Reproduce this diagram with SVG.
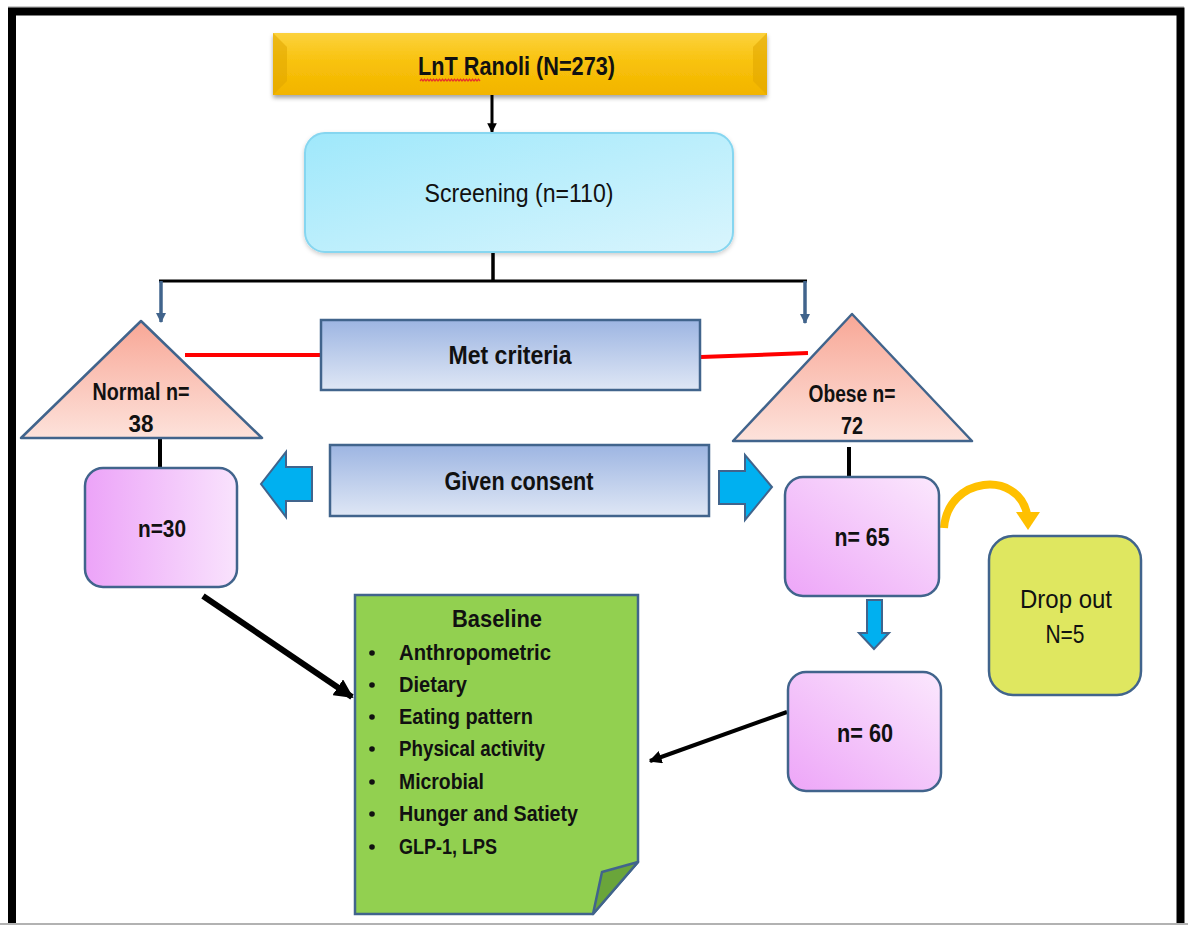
<svg xmlns="http://www.w3.org/2000/svg" width="1188" height="925" viewBox="0 0 1188 925">
<defs>
<style>
text{font-family:"Liberation Sans",Arial,sans-serif;fill:#111;}
.b{font-weight:bold;}
.node{stroke:#41648c;stroke-width:2.5;}
.conn{stroke:#000;fill:none;}
.blk{fill:#00b0f0;stroke:#41648c;stroke-width:2;}
</style>
<linearGradient id="gold" x1="0" y1="0" x2="0" y2="1"><stop offset="0" stop-color="#fcd23d"/><stop offset="0.5" stop-color="#f8c10a"/><stop offset="1" stop-color="#f2b400"/></linearGradient>
<linearGradient id="cyan" x1="0" y1="0" x2="1" y2="1"><stop offset="0" stop-color="#9fe8fb"/><stop offset="1" stop-color="#d9f5fd"/></linearGradient>
<linearGradient id="salmon" x1="0" y1="0" x2="0" y2="1"><stop offset="0" stop-color="#f8a796"/><stop offset="1" stop-color="#fde2db"/></linearGradient>
<linearGradient id="steel" x1="0" y1="0" x2="0" y2="1"><stop offset="0" stop-color="#9db5e2"/><stop offset="1" stop-color="#dfe7f5"/></linearGradient>
<linearGradient id="pinkH" x1="0" y1="0" x2="1" y2="0"><stop offset="0" stop-color="#eca3f8"/><stop offset="1" stop-color="#f9e3fd"/></linearGradient>
<linearGradient id="pinkD" x1="0" y1="1" x2="1" y2="0"><stop offset="0" stop-color="#eda5f8"/><stop offset="1" stop-color="#fbe8fd"/></linearGradient>
<filter id="sh" x="-10%" y="-10%" width="120%" height="130%"><feDropShadow dx="0" dy="3" stdDeviation="2" flood-color="#000" flood-opacity="0.35"/></filter>
<filter id="sh2" x="-10%" y="-10%" width="120%" height="130%"><feDropShadow dx="0" dy="2" stdDeviation="2" flood-color="#000" flood-opacity="0.2"/></filter>
<marker id="ab" viewBox="0 0 10 10" refX="9" refY="5" markerWidth="3.2" markerHeight="3.2" orient="auto" markerUnits="strokeWidth"><path d="M0 0 L10 5 L0 10 z" fill="#000"/></marker>
<marker id="abs" viewBox="0 0 10 10" refX="9" refY="5" markerWidth="3" markerHeight="3" orient="auto" markerUnits="strokeWidth"><path d="M0 0 L10 5 L0 10 z" fill="#41648c"/></marker>
</defs>
<rect width="1188" height="925" fill="#fff"/>
<line x1="8" y1="7" x2="1184" y2="7" stroke="#999" stroke-width="1"/>
<line x1="0" y1="924" x2="1188" y2="924" stroke="#999" stroke-width="1.5"/>
<path d="M12 923 V11.5 H1180.5 V923" fill="none" stroke="#000" stroke-width="8"/>

<g id="connectors">
<line class="conn" x1="492" y1="95" x2="492" y2="132" stroke-width="3" marker-end="url(#ab)"/>
<line class="conn" x1="493" y1="252" x2="493" y2="282" stroke-width="3.5"/>
<line class="conn" x1="159" y1="281" x2="807" y2="281" stroke-width="3"/>
<line x1="161" y1="281" x2="161" y2="322" stroke="#41648c" stroke-width="3.5" marker-end="url(#abs)"/>
<line x1="805" y1="281" x2="805" y2="323" stroke="#41648c" stroke-width="3.5" marker-end="url(#abs)"/>
<line x1="185" y1="355" x2="321" y2="355" stroke="#ff0000" stroke-width="4"/>
<line x1="701" y1="357" x2="808" y2="353" stroke="#ff0000" stroke-width="4"/>
<line class="conn" x1="160" y1="439" x2="160" y2="469" stroke-width="4"/>
<line class="conn" x1="849" y1="447" x2="849" y2="478" stroke-width="4"/>
<polygon class="blk" points="312,467 286,467 286,452 261,484 286,517 286,501 312,501"/>
<polygon class="blk" points="719,471 745,471 745,455 772,487 745,520 745,504 719,504"/>
<polygon class="blk" points="867,600 882,600 882,633 889,633 874,649 859,633 867,633"/>
<line class="conn" x1="203" y1="596" x2="352" y2="697" stroke-width="6" marker-end="url(#ab)"/>
<line class="conn" x1="787" y1="712" x2="650" y2="761" stroke-width="4" marker-end="url(#ab)"/>
<path d="M944 528 C948 476,1018 470,1027 514" fill="none" stroke="#ffc000" stroke-width="8"/>
<polygon points="1016,512 1040,512 1028,530" fill="#ffc000"/>
</g>

<g id="lnt">
<rect x="273" y="33" width="494" height="62" fill="url(#gold)" filter="url(#sh)"/>
<polygon points="273,33 287,47 287,81 273,95" fill="#e0a500" opacity="0.55"/>
<polygon points="767,33 753,47 753,81 767,95" fill="#e0a500" opacity="0.55"/>
<text class="b" x="418" y="75" font-size="25" textLength="197" lengthAdjust="spacingAndGlyphs">LnT Ranoli (N=273)</text>
<path d="M420 81 l1.5 -1.8 l1.5 1.8 l1.5 -1.8 l1.5 1.8 l1.5 -1.8 l1.5 1.8 l1.5 -1.8 l1.5 1.8 l1.5 -1.8 l1.5 1.8 l1.5 -1.8 l1.5 1.8 l1.5 -1.8 l1.5 1.8 l1.5 -1.8 l1.5 1.8 l1.5 -1.8 l1.5 1.8 l1.5 -1.8 l1.5 1.8 l1.5 -1.8 l1.5 1.8 l1.5 -1.8 l1.5 1.8 l1.5 -1.8 l1.5 1.8 l1.5 -1.8 l1.5 1.8 l1.5 -1.8 l1.5 1.8 l1.5 -1.8 l1.5 1.8 l1.5 -1.8 l1.5 1.8 l1.5 -1.8 l1.5 1.8 l1.5 -1.8 l1.5 1.8 l1.5 -1.8 l1.5 1.8" fill="none" stroke="#e8332a" stroke-width="1.3"/>
</g>

<g id="screening">
<rect x="305" y="133" width="428" height="119" rx="20" fill="url(#cyan)" stroke="#86d6f0" stroke-width="2" filter="url(#sh2)"/>
<text x="519" y="202" font-size="26" text-anchor="middle" textLength="189" lengthAdjust="spacingAndGlyphs">Screening (n=110)</text>
</g>

<g id="normal">
<polygon class="node" points="141,321 262,438 21,438" fill="url(#salmon)" stroke-linejoin="round"/>
<text class="b" x="141" y="400" font-size="23" text-anchor="middle" textLength="97" lengthAdjust="spacingAndGlyphs">Normal n=</text>
<text class="b" x="141" y="432" font-size="23" text-anchor="middle" textLength="25" lengthAdjust="spacingAndGlyphs">38</text>
</g>

<g id="obese">
<polygon class="node" points="852,314 972,441 733,441" fill="url(#salmon)" stroke-linejoin="round"/>
<text class="b" x="852" y="402" font-size="23" text-anchor="middle" textLength="87" lengthAdjust="spacingAndGlyphs">Obese n=</text>
<text class="b" x="852" y="434" font-size="23" text-anchor="middle" textLength="22" lengthAdjust="spacingAndGlyphs">72</text>
</g>

<g id="met">
<rect class="node" x="321" y="320" width="379" height="70" fill="url(#steel)"/>
<text class="b" x="510" y="364" font-size="26" text-anchor="middle" textLength="123" lengthAdjust="spacingAndGlyphs">Met criteria</text>
</g>

<g id="consent">
<rect class="node" x="330" y="445" width="379" height="71" fill="url(#steel)"/>
<text class="b" x="519" y="490" font-size="26" text-anchor="middle" textLength="149" lengthAdjust="spacingAndGlyphs">Given consent</text>
</g>

<g id="n30">
<rect class="node" x="85" y="468" width="152" height="119" rx="18" fill="url(#pinkH)"/>
<text class="b" x="162" y="537" font-size="23" text-anchor="middle" textLength="48" lengthAdjust="spacingAndGlyphs">n=30</text>
</g>

<g id="n65">
<rect class="node" x="785" y="477" width="154" height="119" rx="18" fill="url(#pinkD)"/>
<text class="b" x="862" y="546" font-size="25" text-anchor="middle" textLength="55" lengthAdjust="spacingAndGlyphs">n= 65</text>
</g>

<g id="dropout">
<rect class="node" x="989" y="536" width="152" height="159" rx="24" fill="#dfe760"/>
<text x="1066" y="608" font-size="25" text-anchor="middle" textLength="92" lengthAdjust="spacingAndGlyphs">Drop out</text>
<text x="1065" y="643" font-size="25" text-anchor="middle" textLength="39" lengthAdjust="spacingAndGlyphs">N=5</text>
</g>

<g id="n60">
<rect class="node" x="788" y="672" width="153" height="119" rx="18" fill="url(#pinkD)"/>
<text class="b" x="865" y="742" font-size="25" text-anchor="middle" textLength="56" lengthAdjust="spacingAndGlyphs">n= 60</text>
</g>

<g id="baseline">
<polygon class="node" points="355,595 638,595 638,862 593,914 355,914" fill="#92d050"/>
<polygon class="node" points="638,862 602,872 593,914" fill="#6aa53a" stroke-linejoin="round"/>
<text class="b" x="497" y="627" font-size="23" text-anchor="middle" textLength="90" lengthAdjust="spacingAndGlyphs">Baseline</text>
<g fill="#111">
<circle cx="372" cy="653" r="2.8"/><circle cx="372" cy="685" r="2.8"/><circle cx="372" cy="717" r="2.8"/><circle cx="372" cy="749" r="2.8"/><circle cx="372" cy="782" r="2.8"/><circle cx="372" cy="814" r="2.8"/><circle cx="372" cy="847" r="2.8"/>
</g>
<text class="b" x="399" y="660" font-size="22" textLength="152" lengthAdjust="spacingAndGlyphs">Anthropometric</text>
<text class="b" x="399" y="692" font-size="22" textLength="68" lengthAdjust="spacingAndGlyphs">Dietary</text>
<text class="b" x="399" y="724" font-size="22" textLength="134" lengthAdjust="spacingAndGlyphs">Eating pattern</text>
<text class="b" x="399" y="756" font-size="22" textLength="146" lengthAdjust="spacingAndGlyphs">Physical activity</text>
<text class="b" x="399" y="789" font-size="22" textLength="85" lengthAdjust="spacingAndGlyphs">Microbial</text>
<text class="b" x="399" y="821" font-size="22" textLength="179" lengthAdjust="spacingAndGlyphs">Hunger and Satiety</text>
<text class="b" x="399" y="854" font-size="22" textLength="98" lengthAdjust="spacingAndGlyphs">GLP-1, LPS</text>
</g>
</svg>
